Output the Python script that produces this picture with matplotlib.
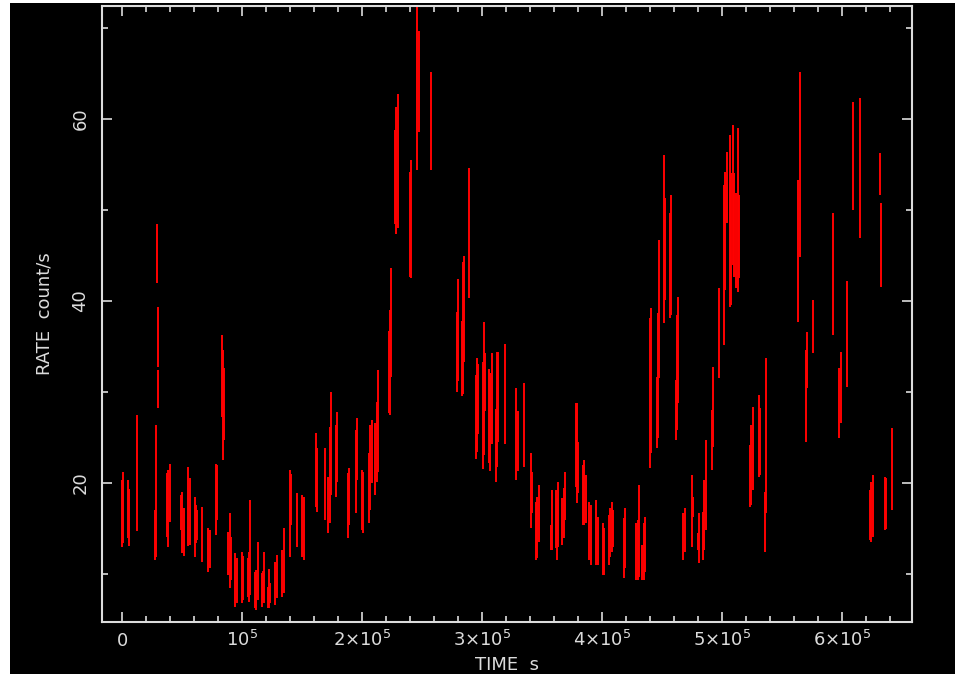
import matplotlib
matplotlib.use("Agg")
import matplotlib.pyplot as plt
from matplotlib.patches import Rectangle
from matplotlib.ticker import FixedLocator, MultipleLocator
import numpy as np

# binned light curve: bin time (s), count rate and 1-sigma error (count/s)
time = [
    0, 800, 4800, 5800, 12200, 27500, 28600, 29400, 29600, 29800,
    37700, 38600, 39700, 49400, 50200, 51400, 55200, 56400, 60800, 61400,
    62500, 66900, 71900, 73100, 78300, 79400, 83100, 84200, 85200, 88600,
    89700, 90800, 94200, 95800, 99700, 100800, 104700, 105800, 106900, 111100,
    111900, 113100, 116400, 117200, 118100, 121400, 122500, 123600, 127500, 128900,
    133600, 134700, 139700, 140800, 146100, 150200, 151400, 161400, 162500, 168900,
    171900, 173100, 174200, 178100, 179200, 188600, 189400, 194700, 195600, 199700,
    200800, 205800, 206900, 208100, 211100, 212200, 213300, 222500, 223300, 224400,
    227500, 228600, 229700, 240000, 241100, 246100, 247200, 257500, 279200, 280200,
    283100, 284200, 285200, 289400, 294700, 295600, 296700, 300800, 301700, 302700,
    306100, 306900, 308100, 311400, 312200, 313300, 319400, 328600, 329700, 334700,
    340800, 341900, 345000, 346100, 347200, 357500, 358300, 361400, 362500, 363600,
    366900, 368100, 369200, 378100, 379200, 380000, 384200, 385200, 386400, 389400,
    390600, 395200, 396400, 400600, 401700, 405800, 406900, 408100, 408900, 418300,
    419200, 428600, 429700, 430800, 433600, 434700, 435800, 439700, 440800, 445600,
    446400, 447200, 451400, 452500, 456400, 457500, 461700, 462700, 463600, 467700,
    468900, 474700, 475800, 480000, 481100, 484200, 485200, 486400, 491400, 492500,
    497700, 501400, 502500, 503900, 506700, 507700, 508900, 509700, 511900, 513100,
    514200, 523300, 524400, 525600, 530600, 531700, 535600, 536700, 563600, 564700,
    569700, 570800, 575800, 592200, 597700, 598900, 603900, 608900, 615000, 623600,
    624400, 625600, 631700, 632100, 635800, 636900, 641900,
]
rate = [
    16.65, 17.3, 17.15, 16.2, 21.1, 14.25, 19.15, 45.25, 36.0, 30.3,
    17.6, 17.2, 18.9, 16.75, 15.65, 14.65, 17.45, 16.85, 15.2, 15.5,
    15.35, 14.35, 12.65, 12.75, 18.2, 18.95, 31.8, 28.55, 28.65, 12.25,
    12.6, 11.7, 9.35, 9.3, 9.6, 9.6, 9.65, 9.65, 12.9, 8.25,
    8.2, 10.3, 8.25, 8.75, 9.6, 7.45, 8.4, 7.9, 8.95, 9.75,
    10.05, 11.5, 16.65, 18.2, 15.95, 15.3, 15.0, 21.45, 20.3, 19.85,
    17.6, 20.9, 24.35, 22.45, 23.95, 17.55, 18.5, 21.25, 23.7, 18.1,
    17.85, 19.45, 21.7, 23.45, 22.65, 24.5, 26.8, 32.2, 33.25, 37.6,
    53.65, 54.3, 55.35, 48.4, 49.0, 65.2, 64.15, 59.75, 34.4, 36.8,
    33.7, 37.05, 39.1, 47.45, 27.25, 28.55, 29.25, 27.4, 30.4, 31.1,
    27.35, 26.7, 29.3, 24.1, 28.1, 29.45, 29.8, 25.35, 24.6, 26.4,
    19.2, 18.95, 14.7, 15.15, 16.65, 14.0, 15.9, 16.05, 14.95, 16.55,
    15.8, 16.75, 18.55, 24.2, 23.3, 21.7, 18.7, 18.95, 18.25, 14.7,
    14.3, 14.55, 13.65, 12.75, 12.5, 13.75, 14.6, 15.15, 15.0, 12.9,
    14.0, 12.45, 12.6, 14.75, 11.25, 12.45, 13.25, 29.85, 31.25, 27.7,
    31.8, 39.1, 46.8, 45.7, 43.9, 45.05, 28.0, 32.15, 34.6, 14.1,
    14.85, 16.95, 17.4, 13.55, 13.95, 14.15, 16.45, 19.75, 24.7, 28.35,
    36.45, 43.95, 47.7, 52.5, 48.75, 46.85, 51.65, 48.35, 46.65, 50.0,
    47.05, 20.8, 22.0, 23.8, 25.2, 24.55, 15.7, 25.2, 45.5, 55.0,
    29.55, 33.5, 37.2, 43.0, 28.75, 30.5, 36.35, 55.9, 54.6, 16.45,
    16.8, 17.5, 53.95, 46.15, 17.75, 17.7, 21.5,
]
error = [
    3.65, 3.9, 3.15, 3.1, 6.4, 2.75, 7.25, 3.25, 3.3, 2.1,
    3.5, 4.2, 3.2, 1.95, 3.35, 2.65, 4.35, 3.65, 3.3, 2.1,
    1.65, 3.05, 2.45, 2.05, 3.9, 3.05, 4.5, 6.05, 3.95, 2.35,
    4.1, 2.4, 2.95, 2.5, 2.8, 2.4, 2.15, 2.75, 5.2, 1.95,
    2.2, 3.2, 1.85, 1.55, 2.8, 1.15, 2.1, 1.1, 2.35, 2.35,
    2.55, 3.6, 4.75, 2.8, 2.95, 3.4, 3.5, 4.05, 3.5, 3.95,
    3.1, 5.3, 5.65, 3.95, 3.85, 3.55, 3.1, 4.55, 3.4, 3.3,
    3.35, 3.85, 4.7, 3.45, 3.95, 4.4, 5.6, 4.5, 5.75, 6.0,
    5.15, 7.0, 7.35, 5.8, 6.5, 10.8, 5.55, 5.35, 4.4, 5.6,
    4.1, 7.25, 5.8, 7.15, 4.65, 5.15, 3.85, 5.9, 7.3, 3.2,
    5.15, 5.4, 5.0, 4.0, 6.3, 4.95, 5.5, 5.05, 3.3, 4.6,
    4.1, 2.25, 3.2, 3.35, 3.15, 1.4, 3.3, 3.15, 3.45, 3.55,
    2.6, 2.75, 2.65, 4.6, 5.5, 2.8, 3.3, 3.55, 2.65, 3.2,
    3.3, 3.55, 2.65, 2.85, 2.6, 2.75, 2.7, 2.75, 2.0, 3.3,
    3.3, 3.15, 3.3, 5.05, 1.95, 3.15, 3.05, 8.25, 7.95, 3.9,
    6.9, 7.6, 9.2, 5.6, 5.8, 6.55, 3.3, 6.35, 5.8, 2.6,
    2.45, 3.95, 1.1, 0.95, 2.75, 2.65, 3.85, 4.95, 3.3, 4.35,
    4.95, 8.75, 6.5, 3.9, 9.45, 7.25, 7.65, 5.75, 5.25, 9.0,
    4.55, 3.4, 4.4, 4.6, 4.5, 3.65, 3.3, 8.5, 7.8, 10.2,
    5.05, 3.1, 2.9, 6.7, 3.85, 3.9, 5.85, 5.9, 7.7, 2.75,
    3.3, 3.4, 2.35, 4.65, 2.95, 2.8, 4.5,
]

xticks = [0, 1e5, 2e5, 3e5, 4e5, 5e5, 6e5]
xtick_labels = ['0', r'$10^5$', r'$2{\times}10^5$', r'$3{\times}10^5$',
                r'$4{\times}10^5$', r'$5{\times}10^5$', r'$6{\times}10^5$']
yticks = [20, 40, 60]
ytick_labels = ['20', '40', '60']

fg = '#dcdcdc'
plt.rcParams['font.family'] = 'DejaVu Sans'
plt.rcParams['mathtext.fontset'] = 'dejavusans'
plt.rcParams['font.size'] = 13

fig = plt.figure(figsize=(9.76, 6.74), dpi=100, facecolor='white')
# black plotting page
fig.add_artist(Rectangle((10 / 976, 0), 945 / 976, 671 / 674,
                         transform=fig.transFigure, facecolor='black',
                         edgecolor='none', zorder=0))

ax = fig.add_axes([102 / 976, 52 / 674, 810 / 976, 616 / 674])
ax.set_facecolor('black')

ax.errorbar(time, rate, yerr=error, fmt='none', ecolor='red',
            elinewidth=1.4, capsize=0)

ax.set_xlim(-16700, 658300)
ax.set_ylim(4.73, 72.4)

ax.xaxis.set_major_locator(FixedLocator(xticks))
ax.xaxis.set_minor_locator(MultipleLocator(2e4))
ax.set_xticklabels(xtick_labels)
ax.yaxis.set_major_locator(FixedLocator(yticks))
ax.yaxis.set_minor_locator(MultipleLocator(10))
ax.set_yticklabels(ytick_labels)

for s in ax.spines.values():
    s.set_color(fg)
    s.set_linewidth(1.5)

ax.tick_params(which='both', direction='in', top=True, right=True,
               color=fg, width=1.2, labelcolor=fg)
ax.tick_params(which='major', length=7)
ax.tick_params(which='minor', length=4)
ax.tick_params(axis='x', pad=17)
ax.tick_params(axis='y', pad=9, labelrotation=90)
for lab in ax.get_xticklabels():
    lab.set_va('baseline')
for lab in ax.get_yticklabels():
    lab.set_va('center')

ax.set_xlabel('TIME  s', color=fg)
ax.xaxis.set_label_coords(0.5, -(665 - 622) / 616)
ax.xaxis.label.set_va('center')
ax.set_ylabel('RATE  count/s', color=fg)
ax.yaxis.set_label_coords(-(102 - 45) / 810, 0.5)
ax.yaxis.label.set_va('center')

fig.savefig('out.png', dpi=100, facecolor=fig.get_facecolor())
